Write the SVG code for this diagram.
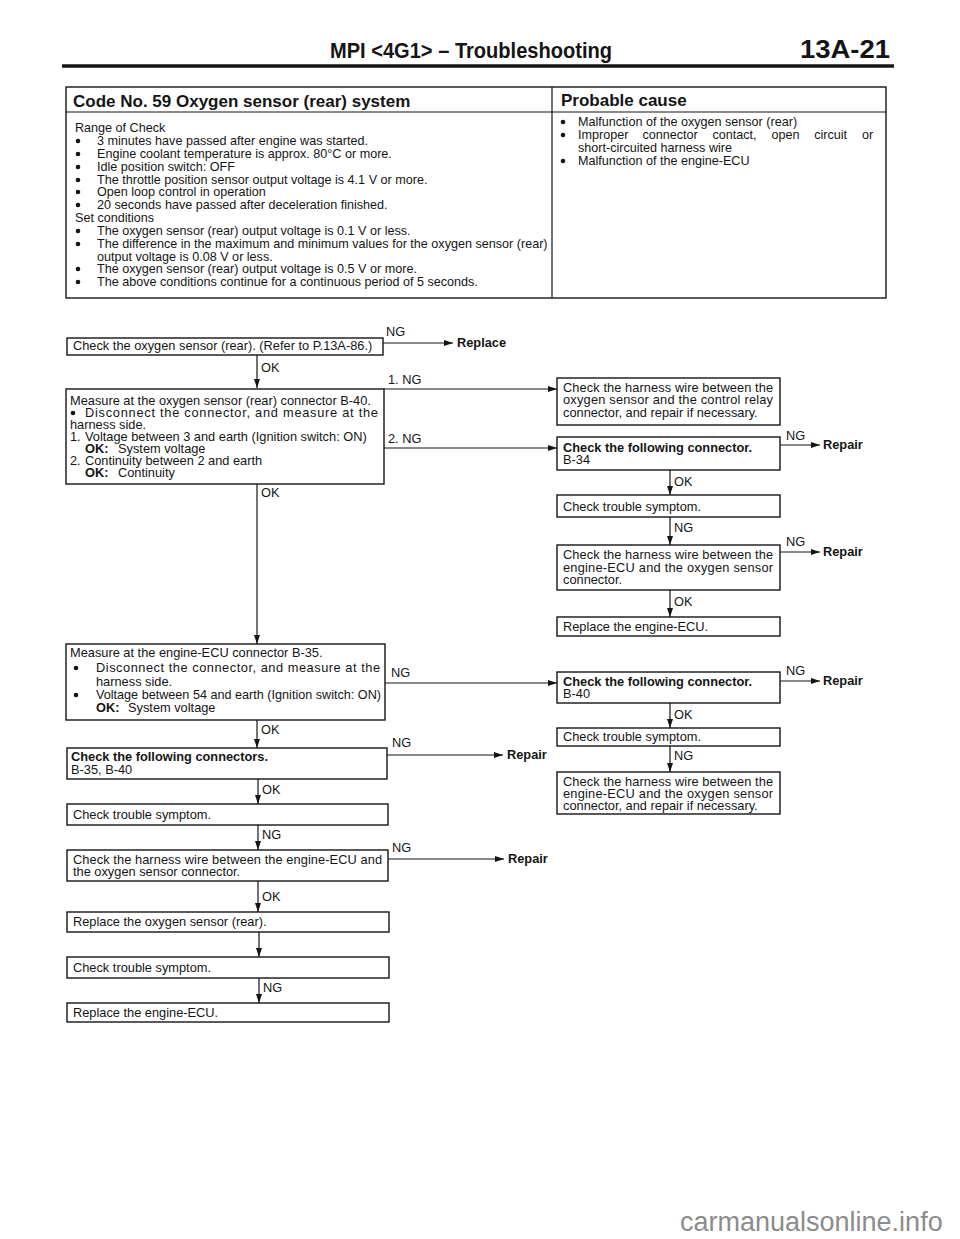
<svg xmlns="http://www.w3.org/2000/svg" width="960" height="1239" viewBox="0 0 960 1239">
<style>
text{font-family:"Liberation Sans",Arial,Helvetica,sans-serif;fill:#151515}
.tb{font-size:12.6px}
.f{font-size:12.8px}
.b{font-weight:bold}
.h{font-size:17px;font-weight:bold}
.box{fill:none;stroke:#151515;stroke-width:1.4}
.ln{stroke:#151515;stroke-width:1.2;fill:none}
.dot{fill:#151515}
</style>
<defs>
<marker id="ar" markerUnits="userSpaceOnUse" markerWidth="9" markerHeight="6" refX="9" refY="3" orient="auto">
<path d="M0,0 L9,3 L0,6 Z" fill="#151515"/>
</marker>
</defs>
<rect width="960" height="1239" fill="#fff"/>

<g id="header">
<text x="330" y="58" font-size="22" font-weight="bold" textLength="282" lengthAdjust="spacingAndGlyphs">MPI &lt;4G1&gt; – Troubleshooting</text>
<text x="800" y="58" font-size="26" font-weight="bold" textLength="90" lengthAdjust="spacingAndGlyphs">13A-21</text>
<line x1="62" y1="66" x2="894" y2="66" stroke="#151515" stroke-width="3.5"/>
</g>

<g id="table">
<rect class="box" x="66" y="87" width="820" height="211"/>
<line class="ln" x1="66" y1="112" x2="886" y2="112" stroke-width="1.4"/>
<line class="ln" x1="552" y1="87" x2="552" y2="298" stroke-width="1.4"/>
<text class="h" x="73" y="107">Code No. 59 Oxygen sensor (rear) system</text>
<text class="h" x="561" y="106">Probable cause</text>
<text class="tb" x="75" y="132">Range of Check</text>
<circle class="dot" cx="78" cy="141" r="2.3"/><text class="tb" x="97" y="145">3 minutes have passed after engine was started.</text>
<circle class="dot" cx="78" cy="154" r="2.3"/><text class="tb" x="97" y="158">Engine coolant temperature is approx. 80°C or more.</text>
<circle class="dot" cx="78" cy="167" r="2.3"/><text class="tb" x="97" y="171">Idle position switch: OFF</text>
<circle class="dot" cx="78" cy="180" r="2.3"/><text class="tb" x="97" y="184">The throttle position sensor output voltage is 4.1 V or more.</text>
<circle class="dot" cx="78" cy="192" r="2.3"/><text class="tb" x="97" y="196">Open loop control in operation</text>
<circle class="dot" cx="78" cy="205" r="2.3"/><text class="tb" x="97" y="209">20 seconds have passed after deceleration finished.</text>
<text class="tb" x="75" y="222">Set conditions</text>
<circle class="dot" cx="78" cy="231" r="2.3"/><text class="tb" x="97" y="235">The oxygen sensor (rear) output voltage is 0.1 V or less.</text>
<circle class="dot" cx="78" cy="244" r="2.3"/><text class="tb" x="97" y="248">The difference in the maximum and minimum values for the oxygen sensor (rear)</text>
<text class="tb" x="97" y="261">output voltage is 0.08 V or less.</text>
<circle class="dot" cx="78" cy="269" r="2.3"/><text class="tb" x="97" y="273">The oxygen sensor (rear) output voltage is 0.5 V or more.</text>
<circle class="dot" cx="78" cy="282" r="2.3"/><text class="tb" x="97" y="286">The above conditions continue for a continuous period of 5 seconds.</text>

<circle class="dot" cx="563" cy="122" r="2.3"/><text class="tb" x="578" y="126">Malfunction of the oxygen sensor (rear)</text>
<circle class="dot" cx="563" cy="135" r="2.3"/><text class="tb" y="139"><tspan x="578">Improper</tspan><tspan x="642.5">connector</tspan><tspan x="712.5">contact,</tspan><tspan x="771.4">open</tspan><tspan x="814.2">circuit</tspan><tspan x="861.9">or</tspan></text>
<text class="tb" x="578" y="152">short-circuited harness wire</text>
<circle class="dot" cx="563" cy="161" r="2.3"/><text class="tb" x="578" y="165">Malfunction of the engine-ECU</text>
</g>

<g id="n1">
<rect class="box" x="67" y="338" width="316" height="17"/>
<text class="f" x="73" y="350">Check the oxygen sensor (rear). (Refer to P.13A-86.)</text>
</g>
<g id="n2">
<rect class="box" x="66" y="389" width="318" height="95"/>
<text class="f" x="70" y="405">Measure at the oxygen sensor (rear) connector B-40.</text>
<circle class="dot" cx="73" cy="413" r="2.3"/>
<text class="f" x="85" y="417" textLength="293" lengthAdjust="spacing">Disconnect the connector, and measure at the</text>
<text class="f" x="70" y="429">harness side.</text>
<text class="f" x="70" y="441">1.</text><text class="f" x="85" y="441">Voltage between 3 and earth (Ignition switch: ON)</text>
<text class="f b" x="85" y="453">OK:</text><text class="f" x="118" y="453">System voltage</text>
<text class="f" x="70" y="465">2.</text><text class="f" x="85" y="465">Continuity between 2 and earth</text>
<text class="f b" x="85" y="477">OK:</text><text class="f" x="118" y="477">Continuity</text>
</g>
<g id="nA">
<rect class="box" x="557" y="378" width="223" height="47"/>
<text class="f" x="563" y="392" textLength="210" lengthAdjust="spacing">Check the harness wire between the</text>
<text class="f" x="563" y="404" textLength="210" lengthAdjust="spacing">oxygen sensor and the control relay</text>
<text class="f" x="563" y="417">connector, and repair if necessary.</text>
</g>
<g id="nB">
<rect class="box" x="557" y="437" width="223" height="33"/>
<text class="f b" x="563" y="452">Check the following connector.</text>
<text class="f" x="563" y="464">B-34</text>
</g>
<g id="nC">
<rect class="box" x="557" y="495" width="223" height="22"/>
<text class="f" x="563" y="511">Check trouble symptom.</text>
</g>
<g id="nD">
<rect class="box" x="557" y="545" width="223" height="45"/>
<text class="f" x="563" y="559" textLength="210" lengthAdjust="spacing">Check the harness wire between the</text>
<text class="f" x="563" y="572" textLength="210" lengthAdjust="spacing">engine-ECU and the oxygen sensor</text>
<text class="f" x="563" y="584">connector.</text>
</g>
<g id="nE">
<rect class="box" x="557" y="617" width="223" height="19"/>
<text class="f" x="563" y="631">Replace the engine-ECU.</text>
</g>
<g id="nF">
<rect class="box" x="66" y="644" width="319" height="76"/>
<text class="f" x="70" y="657">Measure at the engine-ECU connector B-35.</text>
<circle class="dot" cx="76" cy="668" r="2.3"/>
<text class="f" x="96" y="672" textLength="284" lengthAdjust="spacing">Disconnect the connector, and measure at the</text>
<text class="f" x="96" y="686">harness side.</text>
<circle class="dot" cx="76" cy="695" r="2.3"/>
<text class="f" x="96" y="699" textLength="285" lengthAdjust="spacingAndGlyphs">Voltage between 54 and earth (Ignition switch: ON)</text>
<text class="f b" x="96" y="712">OK:</text><text class="f" x="128" y="712">System voltage</text>
</g>
<g id="nM">
<rect class="box" x="557" y="672" width="223" height="31"/>
<text class="f b" x="563" y="686">Check the following connector.</text>
<text class="f" x="563" y="698">B-40</text>
</g>
<g id="nN">
<rect class="box" x="557" y="728" width="223" height="18"/>
<text class="f" x="563" y="741">Check trouble symptom.</text>
</g>
<g id="nO">
<rect class="box" x="557" y="772" width="223" height="42"/>
<text class="f" x="563" y="786" textLength="210" lengthAdjust="spacing">Check the harness wire between the</text>
<text class="f" x="563" y="798" textLength="210" lengthAdjust="spacing">engine-ECU and the oxygen sensor</text>
<text class="f" x="563" y="810">connector, and repair if necessary.</text>
</g>
<g id="nG">
<rect class="box" x="67" y="748" width="320" height="31"/>
<text class="f b" x="71" y="761">Check the following connectors.</text>
<text class="f" x="71" y="774">B-35, B-40</text>
</g>
<g id="nH">
<rect class="box" x="67" y="804" width="321" height="21"/>
<text class="f" x="73" y="819">Check trouble symptom.</text>
</g>
<g id="nI">
<rect class="box" x="67" y="850" width="321" height="31"/>
<text class="f" x="73" y="864" textLength="309" lengthAdjust="spacing">Check the harness wire between the engine-ECU and</text>
<text class="f" x="73" y="876">the oxygen sensor connector.</text>
</g>
<g id="nJ">
<rect class="box" x="67" y="912" width="322" height="20"/>
<text class="f" x="73" y="926">Replace the oxygen sensor (rear).</text>
</g>
<g id="nK">
<rect class="box" x="67" y="957" width="322" height="21"/>
<text class="f" x="73" y="972">Check trouble symptom.</text>
</g>
<g id="nL">
<rect class="box" x="67" y="1003" width="322" height="19"/>
<text class="f" x="73" y="1017">Replace the engine-ECU.</text>
</g>

<g id="connectors">
<g class="ln" marker-end="url(#ar)">
<line x1="383" y1="343" x2="453" y2="343"/>
<line x1="257" y1="355" x2="257" y2="388"/>
<line x1="384" y1="389" x2="557" y2="389"/>
<line x1="384" y1="448" x2="557" y2="448"/>
<line x1="780" y1="445" x2="820" y2="445"/>
<line x1="670" y1="470" x2="670" y2="495"/>
<line x1="670" y1="517" x2="670" y2="545"/>
<line x1="780" y1="552" x2="820" y2="552"/>
<line x1="670" y1="590" x2="670" y2="617"/>
<line x1="257" y1="484" x2="257" y2="644"/>
<line x1="385" y1="683" x2="557" y2="683"/>
<line x1="780" y1="681" x2="820" y2="681"/>
<line x1="670" y1="703" x2="670" y2="728"/>
<line x1="670" y1="746" x2="670" y2="772"/>
<line x1="257" y1="720" x2="257" y2="748"/>
<line x1="387" y1="755" x2="503" y2="755"/>
<line x1="258" y1="779" x2="258" y2="804"/>
<line x1="258" y1="825" x2="258" y2="850"/>
<line x1="388" y1="859" x2="504" y2="859"/>
<line x1="258" y1="881" x2="258" y2="912"/>
<line x1="259" y1="932" x2="259" y2="957"/>
<line x1="259" y1="978" x2="259" y2="1003"/>
</g>
<text class="f" x="386" y="336">NG</text>
<text class="f b" x="457" y="347">Replace</text>
<text class="f" x="261" y="372">OK</text>
<text class="f" x="388" y="384">1. NG</text>
<text class="f" x="388" y="443">2. NG</text>
<text class="f" x="786" y="440">NG</text>
<text class="f b" x="823" y="449">Repair</text>
<text class="f" x="674" y="486">OK</text>
<text class="f" x="674" y="532">NG</text>
<text class="f" x="786" y="546">NG</text>
<text class="f b" x="823" y="556">Repair</text>
<text class="f" x="674" y="606">OK</text>
<text class="f" x="261" y="497">OK</text>
<text class="f" x="391" y="677">NG</text>
<text class="f" x="786" y="675">NG</text>
<text class="f b" x="823" y="685">Repair</text>
<text class="f" x="674" y="719">OK</text>
<text class="f" x="674" y="760">NG</text>
<text class="f" x="261" y="734">OK</text>
<text class="f" x="392" y="747">NG</text>
<text class="f b" x="507" y="759">Repair</text>
<text class="f" x="262" y="794">OK</text>
<text class="f" x="262" y="839">NG</text>
<text class="f" x="392" y="852">NG</text>
<text class="f b" x="508" y="863">Repair</text>
<text class="f" x="262" y="901">OK</text>
<text class="f" x="263" y="992">NG</text>
</g>

<text x="680" y="1231" font-size="27" style="fill:#8c8c8c">carmanualsonline.info</text>
</svg>
